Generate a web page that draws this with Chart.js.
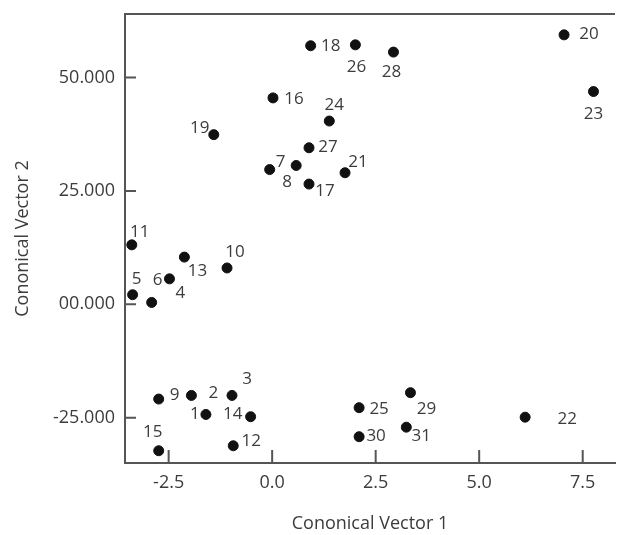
<!DOCTYPE html>
<html>
<head>
    <title>Cononical Vectors</title>
    <script src="https://cdn.jsdelivr.net/npm/chart.js"></script>
    <style>
        body { margin: 0; background: #fff; }
        #wrap { width: 621px; height: 535px; }
    </style>
</head>
<body>
    <div id="wrap"><canvas id="chart" width="621" height="535"></canvas></div>
    <script>
        // point numbers and their two canonical scores
        const pointIds = ['1','2','3','4','5','6','7','8','9','10','11','12','13','14','15','16',
                          '17','18','19','20','21','22','23','24','25','26','27','28','29','30','31'];
        const vector1 = [-1.60, -1.95, -0.97, -2.48, -3.37, -2.91, -0.06, 0.58, -2.74, -1.09, -3.39,
                         -0.94, -2.12, -0.52, -2.74, 0.02, 0.89, 0.93, -1.41, 7.05, 1.76, 6.11, 7.76,
                         1.38, 2.10, 2.01, 0.89, 2.93, 3.34, 2.10, 3.24];
        const vector2 = [-24.3, -20.1, -20.1, 5.6, 2.1, 0.4, 29.7, 30.6, -20.9, 8.0, 13.1,
                         -31.2, 10.4, -24.8, -32.3, 45.5, 26.5, 57.0, 37.4, 59.4, 29.0, -24.9, 46.9,
                         40.4, -22.8, 57.2, 34.5, 55.6, -19.5, -29.2, -27.1];
        const xTicks = [-2.5, 0, 2.5, 5, 7.5];
        const xTickLabels = ['-2.5', '0.0', '2.5', '5.0', '7.5'];
        const yTicks = [-25, 0, 25, 50];
        const yTickLabels = ['-25.000', '00.000', '25.000', '50.000'];

        // where each number sits next to its dot (pixels)
        const labelDx = [-11, 22, 15, 11, 4, 6, 11, -9, 16, 8, 8, 18, 13, -18, -6, 21,
                         16, 20, -14, 25, 13, 42, 0, 5, 20, 1, 19, -2, 16, 17, 15];
        const labelDy = [0, -2, -16, 14, -16, -22, -7, 17, -4, -16, -13, -5, 14, -3, -19, 1,
                         7, 0, -6, -1, -11, 2, 23, -16, 1, 22, -1, 20, 16, -1, 9];

        const textColor = '#3c3c3c';
        const lineColor = '#555';

        const pointLabels = {
            id: 'pointLabels',
            afterDatasetsDraw(chart) {
                const ctx = chart.ctx;
                const meta = chart.getDatasetMeta(0);
                ctx.save();
                ctx.font = '17px "Open Sans"';
                ctx.fillStyle = textColor;
                ctx.textAlign = 'center';
                ctx.textBaseline = 'middle';
                meta.data.forEach((pt, i) => {
                    ctx.fillText(pointIds[i], pt.x + labelDx[i], pt.y + labelDy[i]);
                });
                ctx.restore();
            }
        };

        // top frame line and inward tick marks
        const frame = {
            id: 'frame',
            afterDraw(chart) {
                const ctx = chart.ctx;
                const a = chart.chartArea;
                const xs = chart.scales.x, ys = chart.scales.y;
                ctx.save();
                ctx.strokeStyle = lineColor;
                ctx.lineWidth = 2;
                ctx.beginPath();
                ctx.moveTo(a.left - 1, a.top);
                ctx.lineTo(a.right, a.top);
                xTicks.forEach(v => {
                    const px = xs.getPixelForValue(v);
                    ctx.moveTo(px, a.bottom);
                    ctx.lineTo(px, a.bottom - 13);
                });
                yTicks.forEach(v => {
                    const py = ys.getPixelForValue(v);
                    ctx.moveTo(a.left, py);
                    ctx.lineTo(a.left + 11, py);
                });
                ctx.stroke();
                ctx.restore();
            }
        };

        new Chart(document.getElementById('chart'), {
            type: 'scatter',
            data: {
                datasets: [{
                    data: vector1.map((v, i) => ({ x: v, y: vector2[i] })),
                    backgroundColor: '#111',
                    borderColor: '#111',
                    pointRadius: 5,
                    pointHoverRadius: 5
                }]
            },
            options: {
                responsive: false,
                animation: false,
                layout: { padding: { top: 14, right: 2, left: 0, bottom: 0 } },
                plugins: { legend: { display: false }, tooltip: { enabled: false } },
                scales: {
                    x: {
                        type: 'linear',
                        min: -3.554,
                        max: 8.28,
                        afterBuildTicks: s => { s.ticks = xTicks.map(v => ({ value: v })); },
                        afterFit: s => { s.height = 72; s.paddingLeft = 0; s.paddingRight = 0; },
                        ticks: {
                            callback: (v, i) => xTickLabels[i],
                            color: textColor,
                            font: { family: 'Open Sans', size: 18 },
                            padding: 9,
                            maxRotation: 0
                        },
                        grid: { display: false, drawTicks: false },
                        border: { display: true, color: lineColor, width: 2 },
                        title: {
                            display: true,
                            text: 'Cononical Vector 1',
                            color: textColor,
                            font: { family: 'Open Sans', size: 18 },
                            padding: { top: 0, bottom: 0 }
                        }
                    },
                    y: {
                        type: 'linear',
                        min: -35.0,
                        max: 64.0,
                        afterBuildTicks: s => { s.ticks = yTicks.map(v => ({ value: v })); },
                        afterFit: s => { s.width = 125; s.paddingTop = 0; s.paddingBottom = 0; },
                        ticks: {
                            callback: (v, i) => yTickLabels[i],
                            color: textColor,
                            font: { family: 'Open Sans', size: 18 },
                            padding: 10
                        },
                        grid: { display: false, drawTicks: false },
                        border: { display: true, color: lineColor, width: 2 },
                        title: {
                            display: true,
                            text: 'Cononical Vector 2',
                            color: textColor,
                            font: { family: 'Open Sans', size: 18 },
                            padding: { top: 12, bottom: 0 }
                        }
                    }
                }
            },
            plugins: [pointLabels, frame]
        });
    </script>
</body>
</html>
